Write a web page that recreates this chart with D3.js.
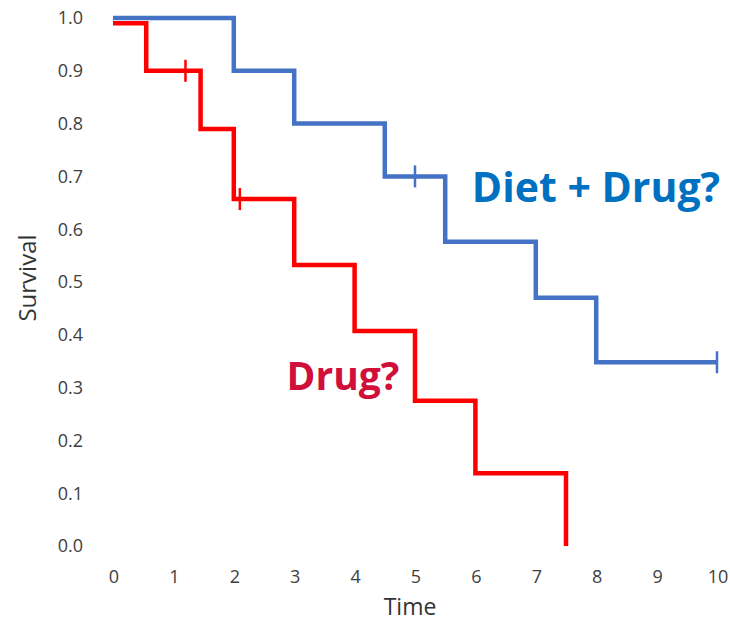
<!DOCTYPE html>
<html>
<head>
<meta charset="utf-8">
<script src="https://cdn.jsdelivr.net/npm/d3@7"></script>
<style>
body { margin: 0; background: #fff; }
svg { display: block; }
</style>
</head>
<body>
<svg id="chart" width="730" height="623"></svg>
<script>
// ---- data ----
const xTicks = [0, 1, 2, 3, 4, 5, 6, 7, 8, 9, 10];
const yTicks = [0.0, 0.1, 0.2, 0.3, 0.4, 0.5, 0.6, 0.7, 0.8, 0.9, 1.0];

const dietDrugTimes = [0, 2, 3, 4.5, 5.5, 7, 8, 10];
const dietDrugSurv  = [1.0, 0.9, 0.8, 0.7, 0.576, 0.47, 0.348, 0.348];
const dietDrugCensorTimes = [5, 10];
const dietDrugCensorSurv  = [0.7, 0.348];

const drugTimes = [0, 0.55, 1.45, 2, 3, 4, 5, 6, 7.5];
const drugSurv  = [0.99, 0.9, 0.79, 0.657, 0.532, 0.407, 0.275, 0.138, 0.0];
const drugCensorTimes = [1.2, 2.1];
const drugCensorSurv  = [0.9, 0.657];

const seriesLabels = ["Diet + Drug?", "Drug?"];
const xTitle = "Time";
const yTitle = "Survival";

// ---- drawing ----
const svg = d3.select("#chart");
const x = d3.scaleLinear().domain([0, 10]).range([113, 717]);
const y = d3.scaleLinear().domain([0, 1]).range([546, 18]);

const tickFont = "'Open Sans', sans-serif";
const tickColor = "#404040";

// y tick labels
svg.append("g").selectAll("text").data(yTicks).join("text")
  .attr("x", 83).attr("y", d => y(d))
  .attr("dy", "0.35em")
  .attr("text-anchor", "end")
  .attr("font-family", tickFont).attr("font-size", 18)
  .attr("fill", tickColor)
  .text(d => d.toFixed(1));

// x tick labels
svg.append("g").selectAll("text").data(xTicks).join("text")
  .attr("x", d => x(d) + 1).attr("y", 577)
  .attr("dy", "0.35em")
  .attr("text-anchor", "middle")
  .attr("font-family", tickFont).attr("font-size", 18)
  .attr("fill", tickColor)
  .text(d => d);

// axis titles
svg.append("text")
  .attr("x", 410).attr("y", 615)
  .attr("text-anchor", "middle")
  .attr("font-family", tickFont).attr("font-size", 23)
  .attr("fill", "#333333")
  .text(xTitle);
svg.append("text")
  .attr("transform", "translate(36,278) rotate(-90)")
  .attr("text-anchor", "middle")
  .attr("font-family", tickFont).attr("font-size", 24)
  .attr("fill", "#333333")
  .text(yTitle);

const line = d3.line().curve(d3.curveStepAfter).x(d => x(d[0])).y(d => y(d[1]));

function drawSeries(times, surv, cTimes, cSurv, color) {
  const pts = times.map((t, i) => [t, surv[i]]);
  svg.append("path")
    .attr("d", line(pts))
    .attr("fill", "none")
    .attr("stroke", color)
    .attr("stroke-width", 4.5)
    .attr("stroke-linejoin", "miter")
    .attr("stroke-linecap", "butt");
  svg.append("g").selectAll("line").data(cTimes.map((t, i) => [t, cSurv[i]])).join("line")
    .attr("x1", d => x(d[0])).attr("x2", d => x(d[0]))
    .attr("y1", d => y(d[1]) - 11).attr("y2", d => y(d[1]) + 11)
    .attr("stroke", color).attr("stroke-width", 2.5);
}

drawSeries(dietDrugTimes, dietDrugSurv, dietDrugCensorTimes, dietDrugCensorSurv, "#4472C4");
drawSeries(drugTimes, drugSurv, drugCensorTimes, drugCensorSurv, "#FF0000");

// series labels
svg.append("text")
  .attr("x", 596).attr("y", 202)
  .attr("text-anchor", "middle")
  .attr("font-family", "'Open Sans', sans-serif").attr("font-weight", "bold")
  .attr("font-size", 41)
  .attr("fill", "#0070C0")
  .text(seriesLabels[0]);
svg.append("text")
  .attr("x", 343).attr("y", 390)
  .attr("text-anchor", "middle")
  .attr("font-family", "'Open Sans', sans-serif").attr("font-weight", "bold")
  .attr("font-size", 39)
  .attr("fill", "#D0103A")
  .text(seriesLabels[1]);
</script>
</body>
</html>
